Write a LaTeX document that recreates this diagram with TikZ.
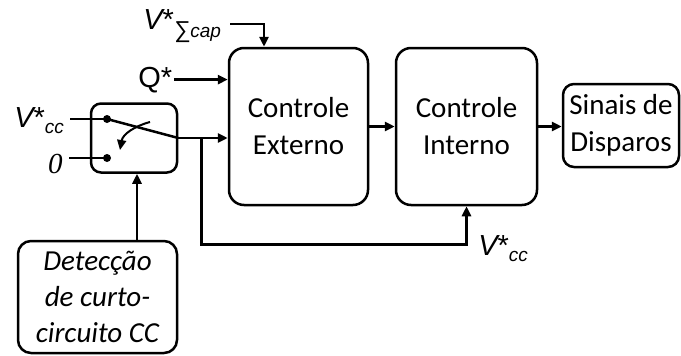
\documentclass[tikz,border=0pt]{standalone}
\usepackage{fontspec}
\setmainfont{Carlito}
\newfontfamily\arialf{Liberation Sans}
\newfontfamily\timesf{Liberation Serif}
\usetikzlibrary{arrows.meta,calc}
\begin{document}
\begin{tikzpicture}[x=1pt,y=-1pt, line width=2.5pt,
  blk/.style={draw, rounded corners=15pt, align=center, font=\fontsize{29}{37}\selectfont, inner sep=0pt},
  lbl/.style={inner sep=0pt, anchor=base west, font=\fontsize{29}{30}\selectfont\arialf},
  arr/.style={-{Triangle[length=10pt,width=9pt]}},
  dotn/.style={circle, fill, inner sep=0pt, minimum size=8pt}]
\useasboundingbox (0,0) rectangle (681,356);
% blocks
\node[blk, minimum width=139pt, minimum height=157pt] (ext) at (298.5,126.5) {Controle\\Externo};
\node[blk, minimum width=141pt, minimum height=157pt] (int) at (466.5,126.5) {Controle\\Interno};
\node[blk, rounded corners=11pt, minimum width=116pt, minimum height=83pt] (sig) at (621,125.5) {Sinais de\\Disparos};
\node[blk, rounded corners=10pt, minimum width=86pt, minimum height=69pt] (sw) at (134,138) {};
\node[blk, rounded corners=13pt, minimum width=159pt, minimum height=112pt, font=\fontsize{29}{36}\selectfont\itshape] (det) at (97.5,297) {Detecção\\de curto-\\circuito CC};
% labels
\node[lbl] (vcap) at (142,30) {{\itshape V}*\raisebox{-7pt}{\fontsize{19}{20}\selectfont\itshape{\fontsize{23}{20}\selectfont ∑}cap}};
\node[lbl] (q) at (137,87) {Q*};
\node[lbl] (vcc) at (13,127) {{\itshape V}*\raisebox{-6pt}{\fontsize{19}{20}\selectfont\itshape cc}};
\node[lbl, font=\fontsize{29}{30}\selectfont\timesf\itshape] (zero) at (47,173) {0};
\node[lbl] (vcc2) at (477,255) {{\itshape V}*\raisebox{-6pt}{\fontsize{19}{20}\selectfont\itshape cc}};
% switch
\node[dotn] (d1) at (107,119) {};
\node[dotn] (d2) at (107,158) {};
\draw ([xshift=5pt]vcc.east |- d1) -- (d1.center);
\draw ([xshift=5pt]zero.east |- d2) -- (d2.center);
\draw (d1.center) -- (sw.east);
\draw[arr, line width=2pt] (150,122) to[out=195,in=80] (120,150);
% connectors
\coordinate (vc) at (230,24);
\draw[arr] (vc) -| ([xshift=-34.5pt]ext.north);
\draw[arr] ([xshift=1pt]q.east) -- (q.east -| ext.west);
\draw[arr] (sw.east) -- (sw.east -| ext.west);
\coordinate (br) at ($(sw.east)+(23,0)$);
\path (int.south) ++(0,38) coordinate (fb);
\draw[arr] (br) |- (fb) -- (int.south);
\draw[arr] (ext.east) -- (int.west);
\draw[arr] (int.east) -- (int.east -| sig.west);
\draw[arr] ([xshift=3pt]sw.south |- det.north) -- ([xshift=3pt]sw.south);
\end{tikzpicture}
\end{document}
